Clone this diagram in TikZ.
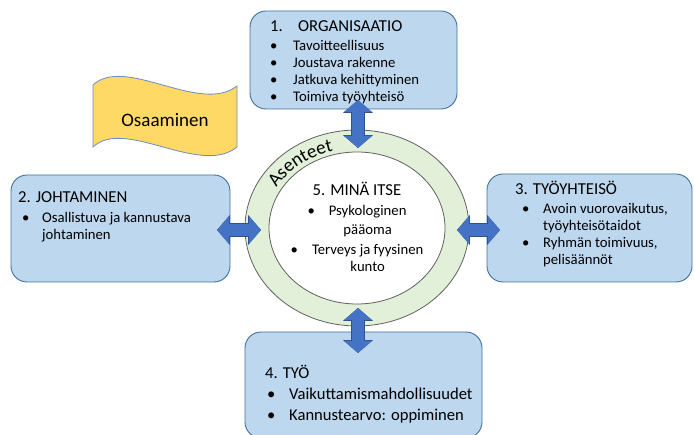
\documentclass[tikz,border=0pt]{standalone}
\usepackage{fontspec}
\setmainfont{Carlito}
\usetikzlibrary{arrows.meta,calc,decorations.text,shapes.geometric}
\definecolor{boxblue}{RGB}{189,215,238}
\definecolor{boxline}{RGB}{65,113,156}
\definecolor{ringgreen}{RGB}{226,240,217}
\definecolor{ringline}{RGB}{96,96,96}
\definecolor{flagyellow}{RGB}{255,217,102}
\definecolor{flagline}{RGB}{110,140,195}
\definecolor{arrowblue}{RGB}{68,114,196}
\definecolor{arrowline}{RGB}{47,82,143}
\newcommand{\headsize}{\fontsize{16.7}{20}\selectfont}
\newcommand{\itemsize}{\fontsize{14.7}{17}\selectfont}
\newcommand{\bigitemsize}{\fontsize{16.6}{20.5}\selectfont}
\newcommand{\asfont}{\fontsize{19}{22}\selectfont}

\begin{document}
\begin{tikzpicture}[x=1pt, y=1pt,
    topicbox/.style={draw=boxline, fill=boxblue, line width=0.9pt, rounded corners=16pt, inner sep=0pt},
    ring/.style={ellipse, draw=ringline, line width=0.8pt, inner sep=0pt},
    blockarr/.style={draw=arrowblue, line width=12pt, {Triangle[length=12pt,width=27pt]}-{Triangle[length=12pt,width=27pt]},
      preaction={draw=arrowline, line width=13.4pt, {Triangle[length=12.8pt,width=29pt]}-{Triangle[length=12.8pt,width=29pt]}}},
    boxtext/.style={anchor=base west, inner sep=0pt, font=\itemsize}]
  \useasboundingbox (0,0) rectangle (694,-435);

  % the four topic boxes
  \node[topicbox, minimum width=207pt, minimum height=98pt] (org) at (353.5,-60) {};
  \node[topicbox, minimum width=219pt, minimum height=107pt] (lead) at (120.5,-228.5) {};
  \node[topicbox, minimum width=205pt, minimum height=108pt] (team) at (589.5,-228) {};
  \node[topicbox, minimum width=237pt, minimum height=106pt] (work) at (363.5,-385) {};

  \node[boxtext] (orgtext) at (270,-32) {\begin{tabular}[t]{@{}p{23pt}@{}l@{}}
      \multicolumn{2}{@{}l@{}}{\headsize\makebox[28pt][l]{1.}ORGANISAATIO}\\[2pt]
      \textbullet & Tavoitteellisuus\\
      \textbullet & Joustava rakenne\\
      \textbullet & Jatkuva kehittyminen\\
      \textbullet & Toimiva työyhteisö
    \end{tabular}};
  \node[boxtext] (leadtext) at (18,-203) {\begin{tabular}[t]{@{}p{24pt}@{}l@{}}
      \multicolumn{2}{@{}l@{}}{\headsize 2. JOHTAMINEN}\\[3pt]
      \hspace*{4pt}\textbullet & Osallistuva ja kannustava\\
      & johtaminen
    \end{tabular}};
  \node[boxtext] (teamtext) at (515,-195) {\begin{tabular}[t]{@{}p{28pt}@{}l@{}}
      \multicolumn{2}{@{}l@{}}{\headsize 3. TYÖYHTEISÖ}\\[2pt]
      \hspace*{7pt}\textbullet & Avoin vuorovaikutus,\\
      & työyhteisötaidot\\
      \hspace*{7pt}\textbullet & Ryhmän toimivuus,\\
      & pelisäännöt
    \end{tabular}};
  \node[boxtext, font=\bigitemsize] (worktext) at (265,-379) {\begin{tabular}[t]{@{}p{24pt}@{}l@{}}
      \multicolumn{2}{@{}l@{}}{4. TYÖ}\\[0.5pt]
      \hspace*{2pt}\textbullet & Vaikuttamismahdollisuudet\\
      \hspace*{2pt}\textbullet & Kannustearvo: oppiminen
    \end{tabular}};

  % ring in the middle
  \node[ring, fill=ringgreen, minimum width=224pt, minimum height=196pt] (self) at (357,-228) {};
  \node[ring, fill=white, minimum width=176pt, minimum height=152pt] (selfcore) at (357,-228) {};
  \path[font=\asfont, decorate, decoration={text along path, text={|\asfont|Asenteet}, text align=center}]
    ($(self.center)+(162:93 and 80)$) arc[start angle=162, end angle=94, x radius=93, y radius=80];

  \node[anchor=base, inner sep=0pt, font=\headsize] (selftitle) at (357,-196) {5. MINÄ ITSE};
  \node[anchor=base, inner sep=0pt, font=\itemsize] (selfitema) at (357,-216) {\begin{tabular}[t]{@{}l@{\hspace{14pt}}c@{}}
      \textbullet & Psykologinen\\[2pt]
      & pääoma
    \end{tabular}};
  \node[anchor=base, inner sep=0pt, font=\itemsize] (selfitemb) at (357,-255) {\begin{tabular}[t]{@{}l@{\hspace{14pt}}c@{}}
      \textbullet & Terveys ja fyysinen\\
      & kunto
    \end{tabular}};

  % banner
  \draw[draw=flagline, fill=flagyellow, line width=0.8pt]
    (93,-85) .. controls (125,-55) and (200,-115) .. (237,-86) -- (237,-147)
    .. controls (200,-177) and (125,-117) .. (93,-147) -- cycle;
  \node[font=\fontsize{19}{22}\selectfont] (skill) at (165,-120) {Osaaminen};

  % double arrows
  \coordinate (orgtip) at (358,-100);
  \coordinate (selftop) at (358,-148);
  \coordinate (leadtip) at (217,-230);
  \coordinate (selfleft) at (261,-230);
  \coordinate (teamtip) at (500,-230);
  \coordinate (selfright) at (457,-230);
  \coordinate (worktip) at (358,-353);
  \coordinate (selfbottom) at (358,-308);
  \foreach \a/\b in {orgtip/selftop,leadtip/selfleft,teamtip/selfright,worktip/selfbottom}
    \draw[blockarr] (\a) -- (\b);
\end{tikzpicture}
\end{document}
